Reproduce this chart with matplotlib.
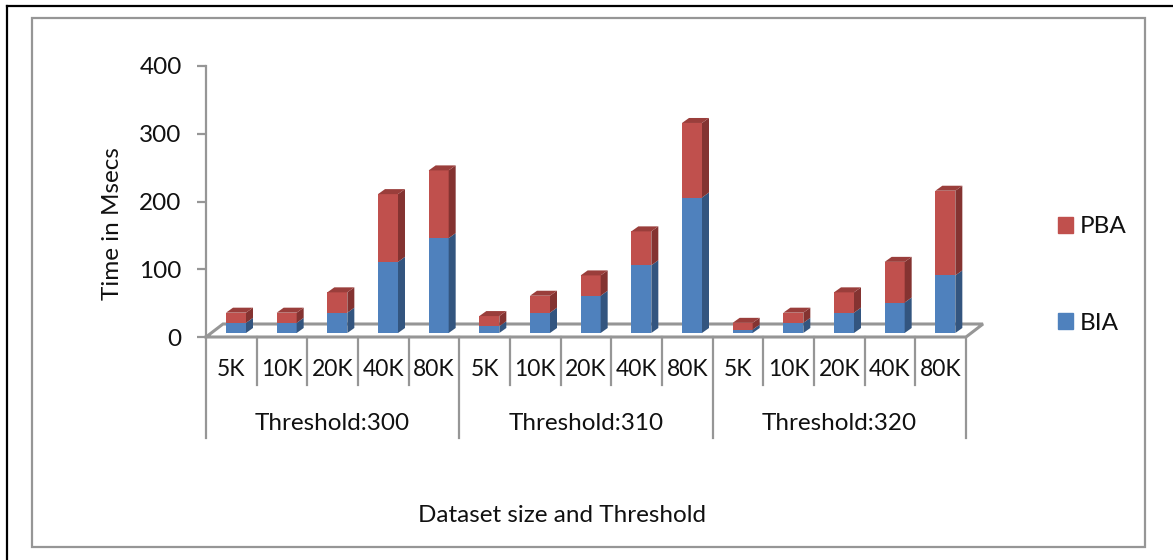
import matplotlib
matplotlib.use("Agg")
import matplotlib.pyplot as plt
from matplotlib.lines import Line2D
from matplotlib.patches import Patch, Rectangle

W, H = 1173, 560

sizes = ["5K", "10K", "20K", "40K", "80K"]
groups = ["Threshold:300", "Threshold:310", "Threshold:320"]
bia = [15, 15, 30, 105, 140, 10, 30, 55, 100, 200, 5, 15, 30, 45, 85]
pba = [15, 15, 30, 100, 100, 15, 25, 30, 50, 110, 10, 15, 30, 60, 125]

RED = "#C0504D"
RED_SIDE = "#843331"
RED_TOP = "#9A3E3B"
BLUE = "#4F81BD"
BLUE_SIDE = "#33557F"
GREY = "#969696"

plt.rcParams["font.family"] = ["Lato", "DejaVu Sans"]
TEXT = "#111111"
FS = 17.5


def px(x0, y0, x1, y1):
    # pixel box (top-left origin) to figure fractions
    return [x0 / W, 1 - y1 / H, (x1 - x0) / W, (y1 - y0) / H]


fig = plt.figure(figsize=(W / 100, H / 100), dpi=100)
fig.patch.set_facecolor("white")

# page frame and chart frame
fig.add_artist(Line2D([7 / W, 7 / W], [0, 1 - 6 / H], color="black", lw=1.6))
fig.add_artist(Line2D([7 / W, 1], [1 - 6 / H, 1 - 6 / H], color="black", lw=1.6))
fig.add_artist(Rectangle((32 / W, 1 - 547 / H), (1145 - 32) / W, (547 - 18) / H, fill=False,
                         edgecolor=GREY, lw=1.6))

ax = fig.add_axes(px(206, 66, 966, 337))
ax.set_xlim(0, 15)
ax.set_ylim(0, 400)
ax.patch.set_visible(False)
for s in ["top", "right", "bottom"]:
    ax.spines[s].set_visible(False)
ax.spines["left"].set_color(GREY)
ax.spines["left"].set_linewidth(1.6)
ax.set_xticks([])
ax.set_yticks([0, 100, 200, 300, 400])
ax.tick_params(axis="y", length=6.5, width=1.6, color=GREY, labelsize=17.5, labelcolor=TEXT, pad=11)
ax.set_ylabel("Time in Msecs", fontsize=FS, color=TEXT)
ax.yaxis.set_label_coords((123 - 206) / 760, 0.42)

unit_x = 15 / 760.0
unit_y = 400 / 271.0

# floor
fx = 17 * unit_x
fy = 13 * unit_y
ax.plot([0, 15, 15 + fx, fx, 0], [0, 0, fy, fy, 0], color=GREY, lw=2.2, clip_on=False,
        solid_joinstyle="miter", zorder=1)

# category dividers under the floor
trans = ax.get_xaxis_transform()
for i in range(16):
    low = (337 - 438) / 271 if i % 5 == 0 else (337 - 385) / 271
    ax.plot([i, i], [0, low], color=GREY, lw=1.6, transform=trans, clip_on=False, zorder=1)

# stacked bars with a small depth
left = 20 * unit_x
width = 20 * unit_x
dx = 7 * unit_x
dy = 5 * unit_y
base = 4 * unit_y

for i in range(15):
    x0 = i + left
    x1 = x0 + width
    y1 = base + bia[i]
    y2 = y1 + pba[i]
    ax.bar(x0, bia[i], width, bottom=base, align="edge", color=BLUE, zorder=3, clip_on=False)
    ax.bar(x0, pba[i], width, bottom=y1, align="edge", color=RED, zorder=3, clip_on=False)
    ax.fill([x1, x1 + dx, x1 + dx, x1], [base, base + dy, y1 + dy, y1], color=BLUE_SIDE, lw=0, zorder=3)
    ax.fill([x1, x1 + dx, x1 + dx, x1], [y1, y1 + dy, y2 + dy, y2], color=RED_SIDE, lw=0, zorder=3)
    ax.fill([x0, x1, x1 + dx, x0 + dx], [y2, y2, y2 + dy, y2 + dy], color=RED_TOP, lw=0, zorder=3)
    ax.text(i + 0.5, (337 - 370) / 271, sizes[i % 5], transform=trans, ha="center", va="center",
            fontsize=16.5, color=TEXT)

for g, name in enumerate(groups):
    ax.text(5 * g + 2.5, (337 - 423) / 271, name, transform=trans, ha="center", va="center",
            fontsize=FS, color=TEXT)

fig.text(562 / W, 1 - 515 / H, "Dataset size and Threshold", ha="center", va="center",
         fontsize=FS, color=TEXT)

handles = [Patch(color=RED, label="PBA"), Patch(color=BLUE, label="BIA")]
fig.legend(handles=handles, loc="center left", bbox_to_anchor=(1036 / W, 1 - 275 / H), frameon=False,
           fontsize=FS, labelcolor=TEXT, handlelength=0.62, handleheight=0.62, handletextpad=0.28,
           labelspacing=3.11)

fig.savefig("out.png", dpi=100)
